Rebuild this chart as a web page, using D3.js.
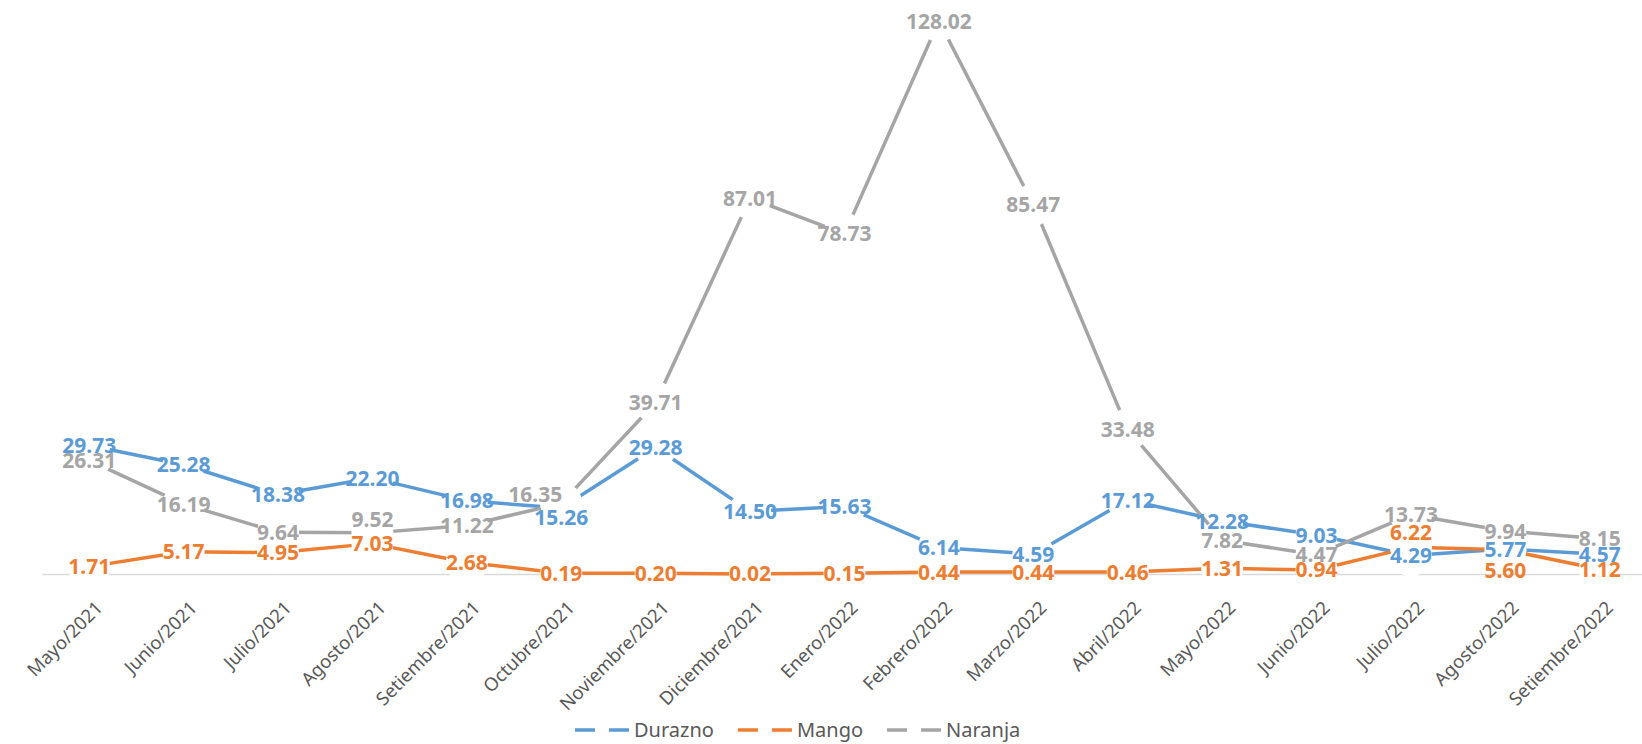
<!DOCTYPE html>
<html>
<head>
<meta charset="utf-8">
<script src="https://cdn.jsdelivr.net/npm/d3@7"></script>
<style>
  html, body { margin: 0; padding: 0; background: #fff; }
  svg { display: block; font-family: "Noto Sans", "Open Sans", sans-serif; }
</style>
</head>
<body>
<div id="chart"></div>
<script>
// months on the x axis
const categories = ["Mayo/2021", "Junio/2021", "Julio/2021", "Agosto/2021", "Setiembre/2021",
  "Octubre/2021", "Noviembre/2021", "Diciembre/2021", "Enero/2022", "Febrero/2022",
  "Marzo/2022", "Abril/2022", "Mayo/2022", "Junio/2022", "Julio/2022", "Agosto/2022", "Setiembre/2022"];

const durazno = [29.73, 25.28, 18.38, 22.20, 16.98, 15.26, 29.28, 14.50, 15.63, 6.14, 4.59, 17.12, 12.28, 9.03, 4.29, 5.77, 4.57];
const mango   = [1.71, 5.17, 4.95, 7.03, 2.68, 0.19, 0.20, 0.02, 0.15, 0.44, 0.44, 0.46, 1.31, 0.94, 6.22, 5.60, 1.12];
const naranja = [26.31, 16.19, 9.64, 9.52, 11.22, 16.35, 39.71, 87.01, 78.73, 128.02, 85.47, 33.48, 7.82, 4.47, 13.73, 9.94, 8.15];

const seriesNames = ["Durazno", "Mango", "Naranja"];

(function() {
  const width = 1642, height = 744;
  const colors = {Durazno: "#5B9BD5", Mango: "#ED7D31", Naranja: "#A5A5A5"};
  const values = {Durazno: durazno, Mango: mango, Naranja: naranja};

  // labels that were moved by hand in the original
  const nudge = {
    "Naranja-3": [0, -13],
    "Naranja-5": [-26, -9],
    "Durazno-5": [0, 9],
    "Mango-14": [0, -14.5],
    "Mango-15": [0, 21]
  };

  const x = d3.scalePoint().domain(categories).range([42, 1647]).padding(0.5);
  const y = d3.scaleLinear().domain([0, 130]).range([574, 12.4]);

  const svg = d3.select("#chart").append("svg")
      .attr("width", width)
      .attr("height", height);

  svg.append("rect").attr("width", width).attr("height", height).attr("fill", "#fff");

  // category axis
  const axis = svg.append("g")
      .attr("transform", "translate(0," + y(0) + ")")
      .call(d3.axisBottom(x).tickSize(0).tickSizeOuter(0));
  axis.select(".domain").attr("stroke", "#D9D9D9").attr("stroke-width", 1.5);
  axis.selectAll(".tick text")
      .attr("y", null).attr("dy", null)
      .attr("transform", "translate(14,35) rotate(-45)")
      .attr("text-anchor", "end")
      .attr("fill", "#595959")
      .style("font-size", "18.5px")
      .style("font-family", "'Noto Sans', 'Open Sans', sans-serif");

  const line = d3.line()
      .x((d, i) => x(categories[i]))
      .y(d => y(d));

  // each series: line, then white (invisible) markers that cut the lines
  seriesNames.forEach(name => {
    const g = svg.append("g");
    g.append("path")
        .datum(values[name])
        .attr("d", line)
        .attr("fill", "none")
        .attr("stroke", colors[name])
        .attr("stroke-width", 3.5)
        .attr("stroke-linejoin", "round");
    g.selectAll("circle")
        .data(values[name])
        .join("circle")
        .attr("cx", (d, i) => x(categories[i]))
        .attr("cy", d => y(d))
        .attr("r", 21)
        .attr("fill", "#fff");
  });

  // data labels, blue ends up on top
  seriesNames.slice().reverse().forEach(name => {
    svg.append("g").selectAll("text")
        .data(values[name])
        .join("text")
        .attr("x", (d, i) => x(categories[i]) + (nudge[name + "-" + i] || [0, 0])[0])
        .attr("y", (d, i) => y(d) + (nudge[name + "-" + i] || [0, 0])[1])
        .attr("dy", "0.36em")
        .attr("text-anchor", "middle")
        .attr("fill", colors[name])
        .style("font-size", "21px")
        .style("font-weight", "bold")
        .text(d => d.toFixed(2));
  });

  // legend
  const legend = svg.append("g").attr("transform", "translate(0,730)");
  let lx = 575;
  seriesNames.forEach(name => {
    legend.append("line")
        .attr("x1", lx).attr("x2", lx + 54)
        .attr("y1", 0).attr("y2", 0)
        .attr("stroke", colors[name])
        .attr("stroke-width", 3.5)
        .attr("stroke-dasharray", "20,14");
    const t = legend.append("text")
        .attr("x", lx + 59)
        .attr("dy", "0.35em")
        .attr("fill", "#595959")
        .style("font-size", "20px")
        .text(name);
    lx += 59 + t.node().getComputedTextLength() + 24;
  });
})();
</script>
</body>
</html>
